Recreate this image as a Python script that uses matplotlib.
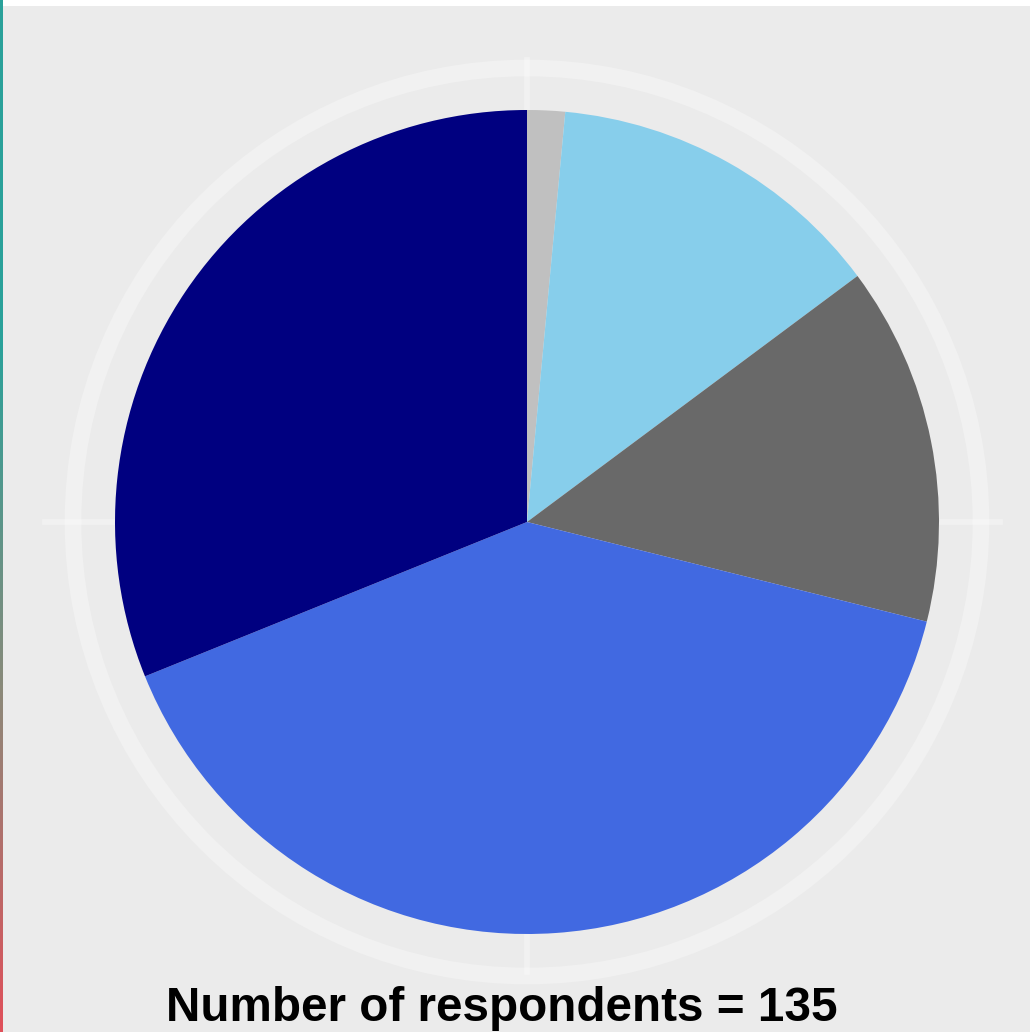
import matplotlib.pyplot as plt
import numpy as np
from matplotlib.patches import Circle, Rectangle
from matplotlib.colors import LinearSegmentedColormap

# answer counts, clockwise from 12 o'clock
labels = ['Other', 'Group A', 'Group B', 'Group C', 'Group D']
counts = [2, 18, 19, 54, 42]
colors = ['#C0C0C0', '#87CEEB', '#696969', '#4169E1', '#000080']
n_resp = 135

W, H = 1030, 1032
fig = plt.figure(figsize=(W / 100, H / 100), dpi=100)
fig.patch.set_facecolor('white')
ax = fig.add_axes([0, 0, 1, 1])

# grey panel + coloured left border
ax.add_patch(Rectangle((0, 0), W, H - 6, facecolor='#EBEBEB', edgecolor='none', zorder=0))
grad = np.linspace(0, 1, 256).reshape(-1, 1)
edge_cmap = LinearSegmentedColormap.from_list('edge', ['#E0505A', '#8A8A7A', '#2AA19A', '#2AA19A'])
ax.imshow(grad, extent=(0, 3, 0, H), cmap=edge_cmap, origin='lower', aspect='auto', zorder=1)

cx, cy, r = 527, 510, 412

# faint polar ring and cross lines behind the pie
ax.add_patch(Circle((cx, cy), r + 42, fill=False, edgecolor='white', lw=12, alpha=0.3, zorder=1))
ax.plot([45, W - 30], [cy, cy], color='white', lw=4, alpha=0.35, zorder=1)
ax.plot([cx, cx], [cy, H - 60], color='white', lw=4, alpha=0.35, zorder=1)
ax.plot([cx, cx], [60, cy], color='white', lw=4, alpha=0.35, zorder=1)

ax.pie(counts, colors=colors, startangle=90, counterclock=False,
       center=(cx, cy), radius=r, frame=True,
       wedgeprops=dict(linewidth=0, zorder=2))
ax.set_xlim(0, W)
ax.set_ylim(0, H)
ax.set_aspect('equal')
ax.axis('off')

ax.text(502, H - 1021, f'Number of respondents = {n_resp}', ha='center', va='baseline',
        fontsize=34.3, fontweight='bold', family=['Liberation Sans', 'DejaVu Sans'])

fig.savefig('out.png', dpi=100, facecolor=fig.get_facecolor())
